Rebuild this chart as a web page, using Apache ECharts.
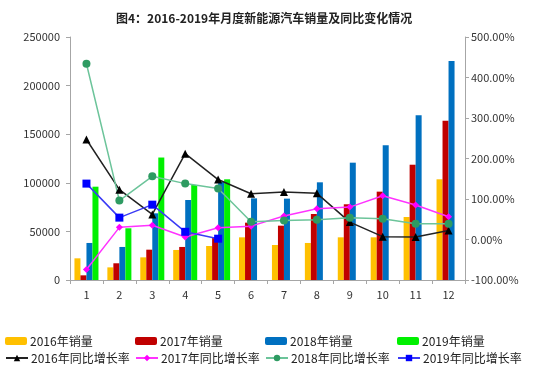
<!DOCTYPE html>
<html>
<head>
<meta charset="utf-8">
<script src="https://cdn.jsdelivr.net/npm/echarts@6/dist/echarts.min.js"></script>
<style>html,body{margin:0;padding:0;background:#fff;}#c{width:550px;height:370px;}</style>
</head>
<body>
<div id="c"></div>
<script>
var months = ['1','2','3','4','5','6','7','8','9','10','11','12'];
var sales2016 = [22300, 13000, 23300, 30900, 35000, 43900, 36000, 38100, 43900, 43900, 64800, 103600];
var sales2017 = [4800, 17200, 31200, 34000, 43900, 59000, 55900, 67900, 77900, 90900, 118600, 163900];
var sales2018 = [38100, 34000, 68600, 82300, 101000, 84000, 83700, 100500, 120700, 138600, 169400, 225300];
var sales2019 = [96000, 53200, 126000, 97700, 103600, null, null, null, null, null, null, null];
var yoy2016 = [247, 123, 62, 212, 148, 113, 117, 114, 43, 7, 6, 22];
var yoy2017 = [-74, 30, 35, 6, 29, 33, 58, 76, 80, 108, 85, 56];
var yoy2018 = [434, 96, 156, 138, 126, 44, 47, 49, 54, 51, 39, 39];
var yoy2019 = [138, 54, 86, 19, 2, null, null, null, null, null, null, null];
var names = ['2016年销量','2017年销量','2018年销量','2019年销量','2016年同比增长率','2017年同比增长率','2018年同比增长率','2019年同比增长率'];

var FONT = '"Noto Sans CJK SC", "Noto Sans", sans-serif';
var chart = echarts.init(document.getElementById('c'), null, {renderer: 'canvas'});
var legendX = [5, 135, 265, 397];
var legends = [];
for (var i = 0; i < 8; i++) {
  legends.push({
    data: [names[i]],
    left: legendX[i % 4],
    top: i < 4 ? 335 : 352,
    padding: 0,
    itemWidth: 22,
    itemHeight: 8,
    selectedMode: false,
    textStyle: {fontSize: 12, color: '#222', fontFamily: FONT, padding: [0, 0, 0, -2]}
  });
}
function bar(name, data, color) {
  return {name: name, type: 'bar', data: data, barGap: '0%', barCategoryGap: '27%',
    itemStyle: {color: color}, yAxisIndex: 0, z: 2};
}
function line(name, data, lineColor, markColor, symbol, size) {
  return {name: name, type: 'line', data: data, yAxisIndex: 1, symbol: symbol, symbolSize: size,
    showAllSymbol: true, lineStyle: {color: lineColor, width: 1.5}, itemStyle: {color: markColor},
    z: 5};
}
chart.setOption({
  animation: false,
  title: {
    text: '图4：2016-2019年月度新能源汽车销量及同比变化情况',
    left: 111, top: 7,
    textStyle: {fontSize: 12, fontWeight: 'bold', color: '#222', fontFamily: FONT}
  },
  legend: legends,
  grid: {left: 70, right: 85, top: 37, bottom: 90, containLabel: false},
  xAxis: {
    type: 'category', data: months, boundaryGap: true,
    axisLine: {lineStyle: {color: '#A6A6A6'}},
    axisTick: {show: true, length: 4, lineStyle: {color: '#A6A6A6'}},
    axisLabel: {color: '#333', fontSize: 11, margin: 9, fontFamily: FONT}
  },
  yAxis: [
    {type: 'value', min: 0, max: 250000, interval: 50000, position: 'left',
      axisLine: {show: true, lineStyle: {color: '#A6A6A6'}},
      axisTick: {show: true, length: 4, lineStyle: {color: '#A6A6A6'}},
      splitLine: {show: false},
      axisLabel: {color: '#333', fontSize: 11, margin: 10, fontFamily: FONT,
        formatter: function (v) { return String(v); }}},
    {type: 'value', min: -100, max: 500, interval: 100, position: 'right',
      axisLine: {show: true, lineStyle: {color: '#A6A6A6'}},
      axisTick: {show: true, length: 4, lineStyle: {color: '#A6A6A6'}},
      splitLine: {show: false},
      axisLabel: {color: '#333', fontSize: 11, margin: 6, fontFamily: FONT,
        formatter: function (v) { return v.toFixed(2) + '%'; }}}
  ],
  series: [
    bar(names[0], sales2016, '#FFC000'),
    bar(names[1], sales2017, '#C00000'),
    bar(names[2], sales2018, '#0070C0'),
    bar(names[3], sales2019, '#00F000'),
    line(names[4], yoy2016, '#222222', '#000000', 'triangle', 8),
    line(names[5], yoy2017, '#FF33FF', '#FF00FF', 'diamond', 7),
    line(names[6], yoy2018, '#6CC49A', '#2E9B62', 'circle', 8),
    line(names[7], yoy2019, '#3A3AF5', '#0000FF', 'rect', 8)
  ]
});
</script>
</body>
</html>
